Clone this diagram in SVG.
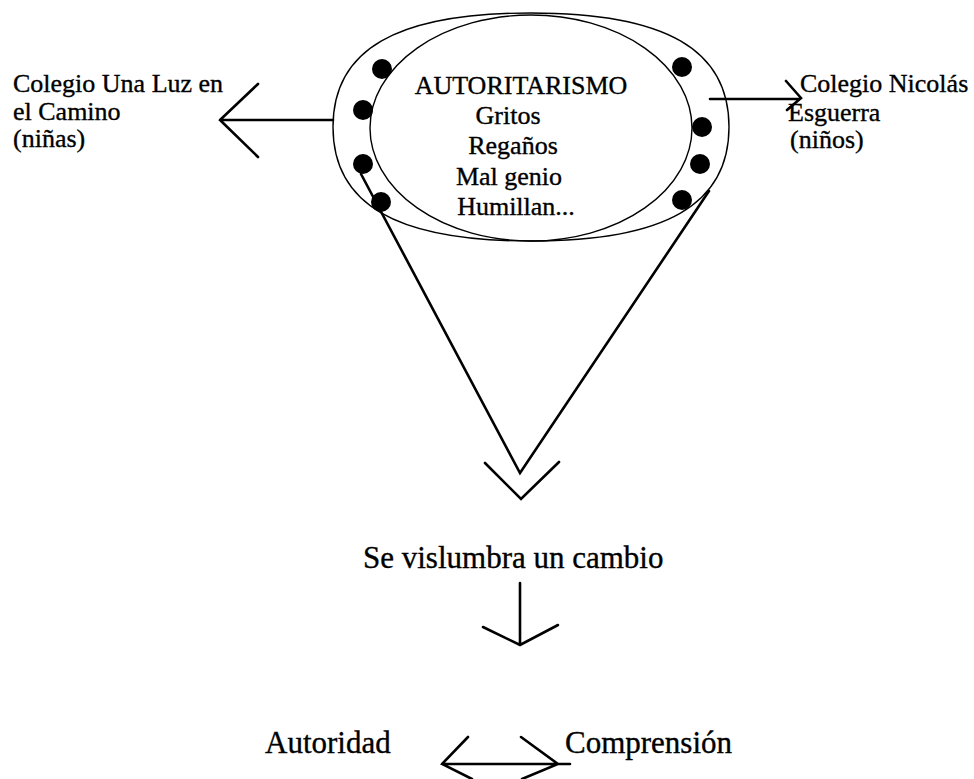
<svg xmlns="http://www.w3.org/2000/svg" width="974" height="779" viewBox="0 0 974 779">
<style>
text{font-family:"Liberation Serif","Times New Roman",serif;fill:#000;stroke:#000;stroke-width:0.35}
.s{font-size:26px}
.b{font-size:31px}
.ring{fill:none;stroke:#000;stroke-width:1.4}
.dot{fill:#000}
.ln{fill:none;stroke:#000;stroke-width:2.6;stroke-linecap:round;stroke-linejoin:miter}
</style>
<rect width="974" height="779" fill="#fff"/>
<g id="connectors">
<path class="ln" d="M333,120 L220,120 M258,84 L220,120 L258,157"/>
<path class="ln" d="M710,99 L800,99 M786,81 L801,98 L787,110"/>
<path class="ln" d="M361,174 L520,473 L709,191"/>
<path class="ln" d="M485,463 L521,499 L559,462"/>
<path class="ln" d="M520,583 L520,643 M483,627 L520,645 L558,625"/>
<path class="ln" d="M442,764 L570,764 M468,737 L442,764 L472,779 M521,737 L558,764 L522,779"/>
</g>
<g id="autoritarismo">
<path class="ring" d="M729,127 C729,49.5 665.6,13 531,13 C396.4,13 333,49.5 333,127 C333,204.5 396.4,241 531,241 C665.6,241 729,204.5 729,127 Z"/>
<ellipse class="ring" cx="531" cy="128" rx="161" ry="113"/>
<circle class="dot" cx="382" cy="69" r="10"/>
<circle class="dot" cx="363" cy="110" r="10"/>
<circle class="dot" cx="363" cy="164" r="10"/>
<circle class="dot" cx="381" cy="202" r="10"/>
<circle class="dot" cx="682" cy="67" r="10"/>
<circle class="dot" cx="702" cy="127" r="10"/>
<circle class="dot" cx="700" cy="164" r="10"/>
<circle class="dot" cx="682" cy="200" r="10"/>
<text class="s" text-anchor="middle" x="521" y="94">AUTORITARISMO</text>
<text class="s" text-anchor="middle" x="508" y="124">Gritos</text>
<text class="s" text-anchor="middle" x="513" y="154">Regaños</text>
<text class="s" text-anchor="middle" x="509" y="185">Mal genio</text>
<text class="s" text-anchor="middle" x="516" y="215">Humillan...</text>
</g>
<g id="colegio-una-luz">
<text class="s" x="13" y="92">Colegio Una Luz en</text>
<text class="s" x="13" y="120">el Camino</text>
<text class="s" x="13" y="147">(niñas)</text>
</g>
<g id="colegio-nicolas">
<text class="s" x="800" y="92">Colegio Nicolás</text>
<text class="s" x="788" y="121">Esguerra</text>
<text class="s" x="790" y="148">(niños)</text>
</g>
<g id="cambio">
<text class="b" x="363" y="568">Se vislumbra un cambio</text>
</g>
<g id="autoridad">
<text class="b" x="265" y="753">Autoridad</text>
</g>
<g id="comprension">
<text class="b" x="565" y="753">Comprensión</text>
</g>
</svg>
